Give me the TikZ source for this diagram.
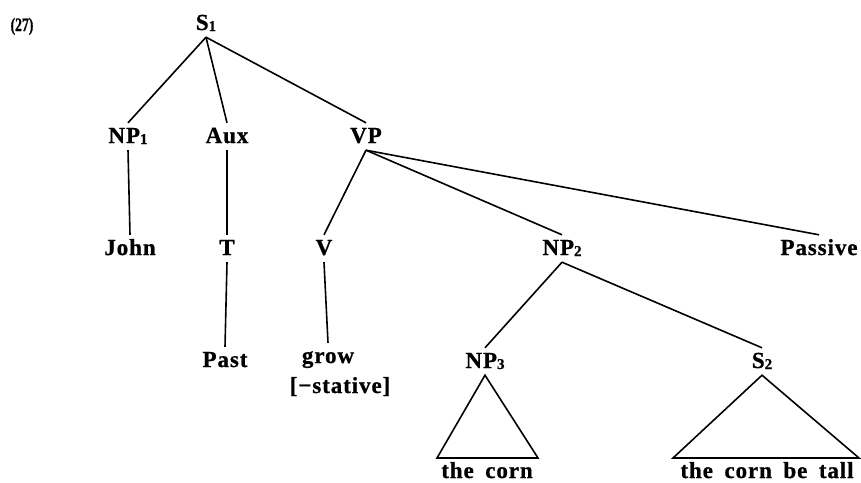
\documentclass[tikz,border=0pt]{standalone}
\usepackage{fontspec}
\usepackage{graphicx}
\setmainfont{Liberation Serif}[LetterSpace=4]
\newfontfamily\treefont{Liberation Serif Bold}[LetterSpace=4, FakeBold=0.8]
\newfontfamily\numfont{Liberation Serif Bold}[FakeBold=0.8]
\newcommand{\sbs}[1]{\raisebox{-1pt}{\fontsize{15}{15}\selectfont #1}}
\begin{document}
\begin{tikzpicture}[x=1pt,y=-1pt,
  lab/.style={font=\fontsize{23}{23}\treefont, anchor=base,
    inner sep=0pt, inner ysep=5pt, text height=15pt, text depth=2pt},
  edge/.style={line width=1.6pt},
  tri/.style={line width=1.6pt, line join=miter}]
\useasboundingbox (0,0) rectangle (861,482);
\node[lab, font=\fontsize{19}{19}\numfont] (num) at (22,31) {\scalebox{0.72}[1]{(27)}};
\node[lab] (S1) at (206,30) {S\sbs{1}};
\node[lab] (NP1) at (128,143) {NP\sbs{1}};
\node[lab] (Aux) at (227,143) {Aux};
\node[lab] (VP) at (366,143) {VP};
\node[lab] (John) at (130,255) {John};
\node[lab] (T) at (227,255) {T};
\node[lab] (V) at (324,255) {V};
\node[lab] (NP2) at (562,255) {NP\sbs{2}};
\node[lab] (Passive) at (819,255) {Passive};
\node[lab] (Past) at (225,367) {Past};
\node[lab] (grow) at (328,363) {grow};
\node[lab] (stative) at (340,393) {[\kern1pt−stative]};
\node[lab] (NP3) at (485,368) {NP\sbs{3}};
\node[lab] (S2) at (762,368) {S\sbs{2}};
\node[lab] (corn) at (487,478) {the\enspace corn};
\node[lab] (tall) at (767,478) {the\enspace corn\enspace be\enspace tall};
\coordinate (t1l) at (437,458);
\coordinate (t1r) at (538,458);
\coordinate (t2l) at (673,458);
\coordinate (t2r) at (859,458);
\draw[edge] (S1.south) -- (NP1.north);
\draw[edge] (S1.south) -- (Aux.north);
\draw[edge] (S1.south) -- (VP.north);
\draw[edge] (NP1.south) -- (John.north);
\draw[edge] (Aux.south) -- (T.north);
\draw[edge] (VP.south) -- (V.north);
\draw[edge] (VP.south) -- (NP2.north);
\draw[edge] (VP.south) -- (Passive.north);
\draw[edge] (T.south) -- (Past.north);
\draw[edge] (V.south) -- (grow.north);
\draw[edge] (NP2.south) -- (NP3.north);
\draw[edge] (NP2.south) -- (S2.north);
\draw[tri] (NP3.south) -- (t1l) -- (t1r) -- cycle;
\draw[tri] (S2.south) -- (t2l) -- (t2r) -- cycle;
\end{tikzpicture}
\end{document}
